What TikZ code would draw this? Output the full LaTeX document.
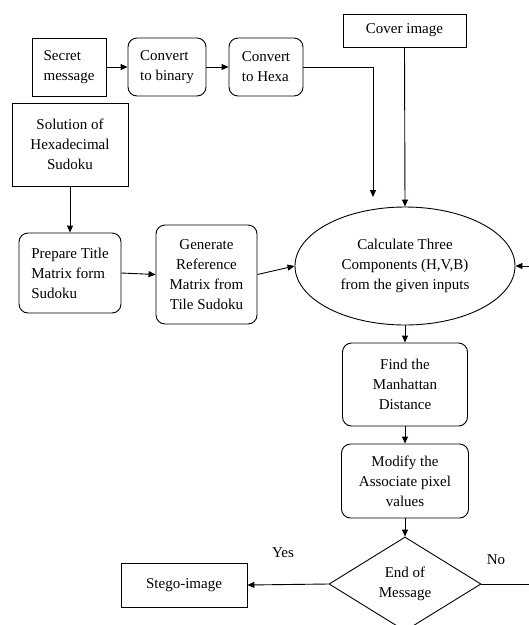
\documentclass[tikz,border=0pt]{standalone}
\usepackage{fontspec}
\setmainfont{Liberation Serif}
\usetikzlibrary{shapes.geometric,arrows.meta}
\begin{document}
\begin{tikzpicture}[x=1pt,y=-1pt,
  font=\fontsize{15}{20}\selectfont,
  sq/.style={draw, line width=0.9pt, inner sep=0pt, align=center},
  rnd/.style={draw, line width=0.9pt, inner sep=0pt, rounded corners=9pt, align=center},
  arr/.style={draw, line width=0.9pt, -{Triangle[length=7pt,width=6pt]}},
  lbl/.style={inner sep=0pt}]
\useasboundingbox[fill=white] (0,0) rectangle (529,625);
\node[sq, minimum width=74, minimum height=58, align=left] (secret) at (69,67) {Secret\\message};
\node[rnd, minimum width=78, minimum height=58, align=left] (bin) at (167,67) {Convert\\to binary};
\node[rnd, minimum width=74, minimum height=58, align=left] (hex) at (266,67) {Convert\\to Hexa};
\node[sq, minimum width=123, minimum height=33] (cover) at (404.5,30.5) {Cover image};
\node[sq, minimum width=116, minimum height=83] (sol) at (70,144.5) {Solution of\\Hexadecimal\\Sudoku};
\node[rnd, minimum width=102, minimum height=80, align=left] (prep) at (70,273) {Prepare Title\\Matrix form\\Sudoku};
\node[rnd, minimum width=101, minimum height=99] (gen) at (206.5,274.5) {Generate\\Reference\\Matrix from\\Tile Sudoku};
\node[ellipse, draw, line width=0.9pt, inner sep=0pt, minimum width=220, minimum height=118, align=center] (calc) at (405,266) {Calculate Three\\Components (H,V,B)\\from the given inputs};
\node[rnd, minimum width=125, minimum height=83] (find) at (405,384.5) {Find the\\Manhattan\\Distance};
\node[rnd, minimum width=127, minimum height=74] (mod) at (405,481) {Modify the\\Associate pixel\\values};
\node[diamond, draw, line width=0.9pt, inner sep=0pt, minimum width=152, minimum height=94, align=center] (end) at (405,584) {End of\\Message};
\node[sq, minimum width=126, minimum height=44] (stego) at (184,585) {Stego-image};
\node[lbl] (yes) at (283,553) {Yes};
\node[lbl] (no) at (496,560) {No};
\coordinate (hexend) at (373,197);
\coordinate (loop) at (560,584);
\draw[arr] (secret.east) -- (bin.west);
\draw[arr] (bin.east) -- (hex.west);
\draw[arr] (hex.east) -| (hexend);
\draw[arr] (cover.south) -- (calc.north);
\draw[arr] (sol.south) -- (prep.north);
\draw[arr] (prep.east) -- (gen.west);
\draw[arr] (gen.east) -- (calc.west);
\draw[arr] (calc.south) -- (find.north);
\draw[arr] (find.south) -- (mod.north);
\draw[arr] (mod.south) -- (end.north);
\draw[arr] (end.west) -- (stego.east);
\draw[arr] (end.east) -- (loop) |- (calc.east);
\end{tikzpicture}
\end{document}
